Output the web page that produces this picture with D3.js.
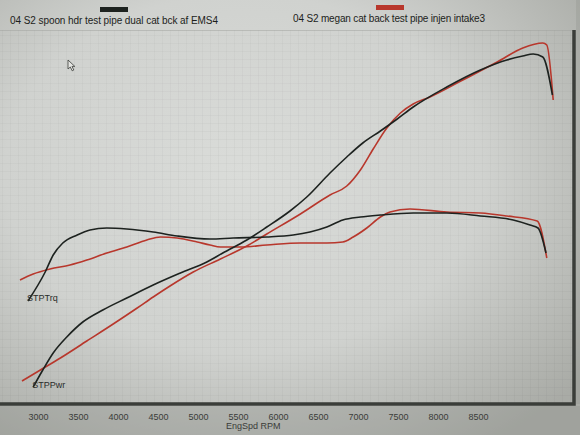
<!DOCTYPE html>
<html>
<head>
<meta charset="utf-8">
<script src="https://cdn.jsdelivr.net/npm/d3@7"></script>
<style>
  body { margin: 0; background: #b9bbb7; }
  svg { display: block; font-family: 'Liberation Sans', Arial, sans-serif; }
  .tick text { fill: #3a3c39; font-size: 9px; }
  .legend-text { fill: #1c1e1b; font-size: 10px; }
  .curve { fill: none; stroke-width: 1.6; stroke-linejoin: round; }
</style>
</head>
<body>
<div id="chart"></div>
<script>
// engine speed ticks shown under the plot
const rpmTicks = [3000, 3500, 4000, 4500, 5000, 5500, 6000, 6500, 7000, 7500, 8000, 8500];

// run 1: spoon hdr test pipe (black)
const blackTrqRpm = [2875, 3090, 3190, 3310, 3490, 3650, 3860, 4110, 4440, 4740, 5150, 5440, 5860,
  6190, 6400, 6610, 6810, 7030, 7280, 7690, 8110, 8530, 8940, 9150, 9250, 9350];
const blackTrq = [51, 65.5, 74, 80, 84, 86.5, 87.5, 87, 85.5, 83.5, 82, 82.5, 83,
  84, 85.5, 88, 91.5, 93, 94, 95, 95, 93.5, 91.5, 89, 87.5, 75];
const blackPwrRpm = [2940, 3060, 3190, 3360, 3560, 3810, 4110, 4440, 4780, 5110, 5310, 5610, 5860,
  6150, 6360, 6650, 6860, 7060, 7280, 7490, 7690, 8110, 8530, 8860, 9060, 9190, 9310, 9430];
const blackPwr = [8, 16.5, 25, 33, 40.5, 46.5, 52.5, 59, 65, 70.5, 75, 81.5, 88,
  96, 103, 115, 123, 130, 136, 142, 148, 158, 166.5, 171.5, 173.5, 174.5, 173, 154];

// run 2: megan cat back / injen intake (red)
const redTrqRpm = [2775, 2940, 3150, 3400, 3610, 3860, 4110, 4360, 4530, 4740, 4990, 5150, 5280, 5530,
  5860, 6280, 6610, 6810, 6940, 7110, 7280, 7400, 7650, 8110, 8530, 8860, 9240, 9360];
const redTrq = [61.5, 64.5, 67, 69, 71.5, 75, 78, 81.5, 83, 82.5, 80.5, 79, 78, 78,
  79, 80, 80, 80.5, 83, 87.5, 93, 95.5, 97, 95.5, 95, 93.5, 91, 72.5];
const redPwrRpm = [2800, 3030, 3280, 3610, 3940, 4240, 4440, 4650, 4940, 5280, 5610, 5860, 6280, 6650,
  6860, 7030, 7190, 7360, 7530, 7690, 7900, 8310, 8740, 9060, 9310, 9360, 9440];
const redPwr = [11, 16.5, 22.5, 31, 39.5, 47.5, 53, 58.5, 65.5, 72, 78.5, 84.5, 94.5, 104,
  108.5, 116.5, 127, 137.5, 145, 149.5, 153, 161.5, 170.5, 177.5, 180, 179, 151.5];

const runNames = ['04 S2 spoon hdr test pipe dual cat bck af EMS4', '04 S2 megan cat back test pipe injen intake3'];
const runColors = ['#1d221f', '#b8372c'];

const width = 580;
const height = 435;
const plot = { left: 0, right: 574, top: 30, bottom: 404 };

const svg = d3.select('#chart').append('svg').attr('width', width).attr('height', height);

const xScale = d3.scaleLinear().domain([3000, 8500]).range([38, 478]);
const yScale = d3.scaleLinear().domain([0, 187]).range([plot.bottom - 1, 29]);

// photographed screen: soft vignette
const defs = svg.append('defs');
const grad = defs.append('radialGradient').attr('id', 'vignette')
  .attr('cx', '42%').attr('cy', '40%').attr('r', '75%');
grad.append('stop').attr('offset', '0%').attr('stop-color', '#dadcd9');
grad.append('stop').attr('offset', '55%').attr('stop-color', '#d0d2cf');
grad.append('stop').attr('offset', '100%').attr('stop-color', '#a9aba6');

svg.append('rect').attr('width', width).attr('height', height).attr('fill', 'url(#vignette)');

// area outside the plot frame is darker
svg.append('rect')
  .attr('x', 0).attr('y', plot.bottom + 2)
  .attr('width', width).attr('height', height - plot.bottom)
  .attr('fill', '#8f928c').attr('opacity', 0.35);
svg.append('rect')
  .attr('x', plot.right + 2).attr('y', 0)
  .attr('width', width - plot.right).attr('height', plot.bottom)
  .attr('fill', '#8f928c').attr('opacity', 0.3);

// faint grid
const grid = svg.append('g').attr('stroke', '#000').attr('stroke-opacity', 0.022).attr('stroke-width', 1);
grid.selectAll('line.v')
  .data(d3.range(2550, 9700, 100))
  .join('line')
  .attr('class', 'v')
  .attr('x1', d => Math.round(xScale(d)) + 0.5)
  .attr('x2', d => Math.round(xScale(d)) + 0.5)
  .attr('y1', plot.top)
  .attr('y2', plot.bottom);
grid.selectAll('line.h')
  .data(d3.range(0, 187, 4))
  .join('line')
  .attr('class', 'h')
  .attr('x1', plot.left)
  .attr('x2', plot.right)
  .attr('y1', d => Math.round(yScale(d)) + 0.5)
  .attr('y2', d => Math.round(yScale(d)) + 0.5);

svg.append('line')
  .attr('x1', 0).attr('x2', plot.right)
  .attr('y1', plot.top + 0.5).attr('y2', plot.top + 0.5)
  .attr('stroke', '#9fa29d').attr('stroke-opacity', 0.5);

// frame
svg.append('path')
  .attr('d', `M0,${plot.bottom} H${plot.right} V${plot.top}`)
  .attr('fill', 'none')
  .attr('stroke', '#3a3d39')
  .attr('stroke-width', 3.5);

// curves
const line = d3.line()
  .x(d => xScale(d[0]))
  .y(d => yScale(d[1]))
  .curve(d3.curveMonotoneX);

const series = [
  { rpm: redTrqRpm, vals: redTrq, color: runColors[1] },
  { rpm: redPwrRpm, vals: redPwr, color: runColors[1] },
  { rpm: blackTrqRpm, vals: blackTrq, color: runColors[0] },
  { rpm: blackPwrRpm, vals: blackPwr, color: runColors[0] }
];

series.forEach(s => {
  svg.append('path')
    .datum(d3.zip(s.rpm, s.vals))
    .attr('class', 'curve')
    .attr('stroke', s.color)
    .attr('d', line);
});

// channel labels at the start of the black curves
svg.append('text')
  .attr('x', xScale(blackTrqRpm[0]) - 1)
  .attr('y', yScale(blackTrq[0]) + 0)
  .attr('fill', '#2a2c29').attr('font-size', 9)
  .text('STPTrq');
svg.append('text')
  .attr('x', xScale(blackPwrRpm[0]) - 1)
  .attr('y', yScale(blackPwr[0]) + 1)
  .attr('fill', '#2a2c29').attr('font-size', 9)
  .text('STPPwr');

// x axis under the frame
const xAxis = d3.axisBottom(xScale).tickValues(rpmTicks).tickSize(0).tickPadding(10).tickFormat(d3.format('d'));
svg.append('g')
  .attr('transform', 'translate(0,' + plot.bottom + ')')
  .call(xAxis)
  .call(g => g.select('.domain').remove());

svg.append('text')
  .attr('x', xScale(5690))
  .attr('y', 429)
  .attr('text-anchor', 'middle')
  .attr('fill', '#3a3c39').attr('font-size', 9)
  .text('EngSpd  RPM');

// legend
const legend = [
  { x: 10, swatchX: 100, swatchY: 7 },
  { x: 293, swatchX: 376, swatchY: 5 }
];
legend.forEach((l, i) => {
  svg.append('rect')
    .attr('x', l.swatchX).attr('y', l.swatchY)
    .attr('width', 28).attr('height', 5)
    .attr('fill', runColors[i]);
  svg.append('text')
    .attr('class', 'legend-text')
    .attr('x', l.x).attr('y', 24 - i * 2)
    .attr('textLength', i === 0 ? 208 : 192)
    .text(runNames[i]);
});

// mouse pointer left on the screen
svg.append('path')
  .attr('transform', 'translate(68,60)')
  .attr('d', 'M0,0 L0,9 L2.3,7 L4.2,10.8 L5.8,10 L4,6.4 L6.8,6.4 Z')
  .attr('fill', '#e4e5e2')
  .attr('stroke', '#3a3c39')
  .attr('stroke-width', 0.8);
</script>
</body>
</html>
